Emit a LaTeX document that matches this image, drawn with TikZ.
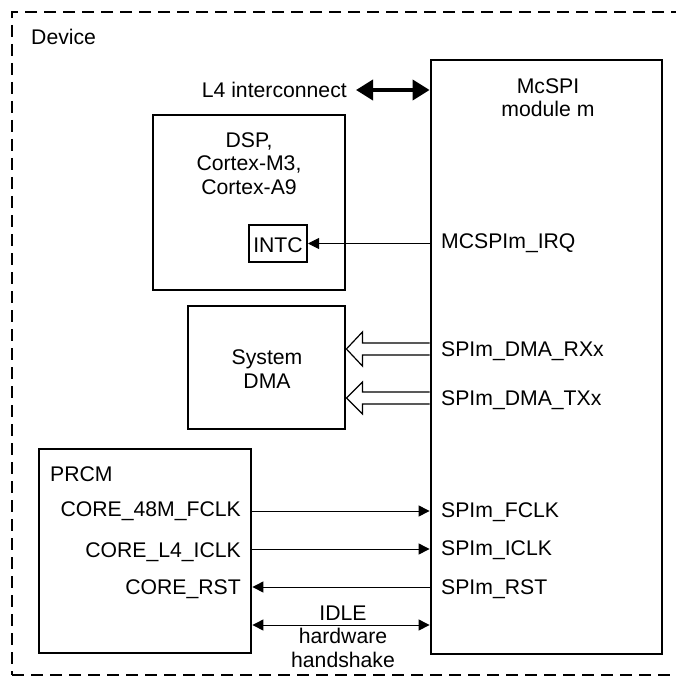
\documentclass[tikz,border=0pt]{standalone}
\usepackage{fontspec}
\setmainfont{Liberation Sans}
\usetikzlibrary{arrows.meta,calc}
\tikzset{
  box/.style={draw, line width=2.8pt, inner sep=0pt},
  lbl/.style={inner sep=0pt, font=\fontsize{21.2}{23.5}\selectfont, align=center},
  sig/.style={line width=1pt, -{Triangle[length=11pt,width=11pt]}},
  sigb/.style={line width=1pt, {Triangle[length=11pt,width=11pt]}-{Triangle[length=11pt,width=11pt]}},
  bus/.style={line width=3.8pt, {Triangle[length=17pt,width=20pt]}-{Triangle[length=17pt,width=20pt]}},
  hollow/.style={draw, fill=white, line width=1.2pt, line join=miter},
  frame/.style={draw, line width=1.5pt, dash pattern=on 12pt off 7pt, inner sep=0pt}
}
\begin{document}
\begin{tikzpicture}[x=1pt,y=-1pt]
\useasboundingbox[fill=white] (0,0) rectangle (676,676);
% frame
\node[frame, minimum width=688pt, minimum height=663pt] (device) at (356,343.5) {};
\node[lbl, anchor=base west] (devlbl) at (31,45) {Device};
% boxes
\node[box, minimum width=231pt, minimum height=594pt] (mcspi) at (546.5,357) {};
\node[box, minimum width=192pt, minimum height=175pt] (dsp) at (249,202.5) {};
\node[draw, line width=2pt, inner sep=0pt, minimum width=58pt, minimum height=37pt] (intc) at (278,243.5) {};
\node[box, minimum width=157pt, minimum height=123pt] (dma) at (266.5,367.5) {};
\node[box, minimum width=212pt, minimum height=204pt] (prcm) at (145,551) {};
% box texts (base = last line)
\node[lbl, anchor=base] (mcspilbl) at (548,117) {McSPI\\module m};
\node[lbl, anchor=base] (dsplbl) at (249,194) {DSP,\\Cortex-M3,\\Cortex-A9};
\node[lbl, anchor=base] (intclbl) at (278,252) {INTC};
\node[lbl, anchor=base] (dmalbl) at (267,388) {System\\DMA};
\node[lbl, anchor=base west] (prcmlbl) at (50,481) {PRCM};
% L4 interconnect
\node[lbl, anchor=base east] (l4lbl) at (347,98) {L4 interconnect};
\coordinate (l4end) at (356,90);
\draw[bus] (l4end) -- (l4end -| mcspi.west);
% McSPI signal labels
\node[lbl, anchor=base west] (irq) at (441,248) {MCSPIm\_IRQ};
\node[lbl, anchor=base west] (rx) at (441,356) {SPIm\_DMA\_RXx};
\node[lbl, anchor=base west] (tx) at (441,405) {SPIm\_DMA\_TXx};
\node[lbl, anchor=base west] (fclk) at (441,517) {SPIm\_FCLK};
\node[lbl, anchor=base west] (iclk) at (441,555) {SPIm\_ICLK};
\node[lbl, anchor=base west] (rst) at (441,594) {SPIm\_RST};
% PRCM signal labels
\node[lbl, anchor=base east] (cfclk) at (241,516) {CORE\_48M\_FCLK};
\node[lbl, anchor=base east] (ciclk) at (241,557) {CORE\_L4\_ICLK};
\node[lbl, anchor=base east] (crst) at (241,594) {CORE\_RST};
\node[lbl, anchor=base] (idle) at (343,667) {IDLE\\hardware\\handshake};
% IRQ
\draw[sig] (mcspi.west |- intc.east) -- (intc.east);
% DMA hollow arrows
\path[hollow] (mcspi.west |- 0,343) -- ([xshift=16pt]dma.east |- 0,343) -- ([xshift=16pt]dma.east |- 0,332)
  -- (dma.east |- 0,349) -- ([xshift=16pt]dma.east |- 0,366) -- ([xshift=16pt]dma.east |- 0,355) -- (mcspi.west |- 0,355);
\path[hollow] (mcspi.west |- 0,392) -- ([xshift=16pt]dma.east |- 0,392) -- ([xshift=16pt]dma.east |- 0,382)
  -- (dma.east |- 0,398) -- ([xshift=16pt]dma.east |- 0,414) -- ([xshift=16pt]dma.east |- 0,404) -- (mcspi.west |- 0,404);
% PRCM connections
\draw[sig] (prcm.east |- 0,511) -- (mcspi.west |- 0,511);
\draw[sig] (prcm.east |- 0,549) -- (mcspi.west |- 0,549);
\draw[sig] (mcspi.west |- 0,587) -- (prcm.east |- 0,587);
\draw[sigb] (prcm.east |- 0,625) -- (mcspi.west |- 0,625);
\end{tikzpicture}
\end{document}
